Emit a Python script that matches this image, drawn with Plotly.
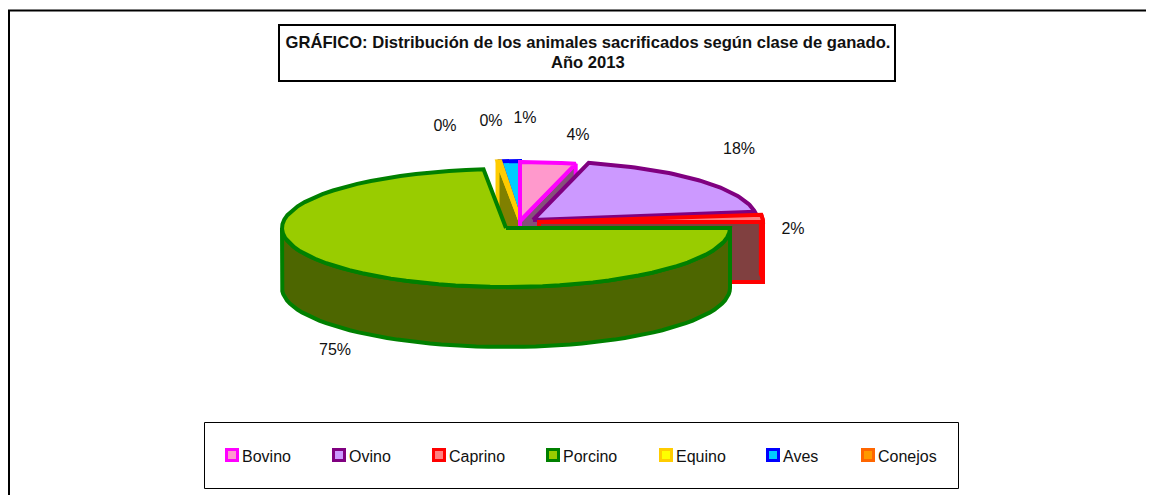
import numpy as np
import plotly.graph_objects as go

# shares, in drawing order clockwise from the top
categories = ['Bovino', 'Ovino', 'Caprino', 'Porcino', 'Equino', 'Aves', 'Conejos']
shares = [4.0, 18.8, 2.2, 73.4, 0.2, 1.4, 0.0]
pct_labels = ['4%', '18%', '2%', '75%', '0%', '1%', '0%']

line_colors = ['#FF00FF', '#800080', '#FF0000', '#008000', '#FFCC00', '#0000FF', '#FF6600']
top_colors = ['#FF99CC', '#CC99FF', '#FF8080', '#99CC00', '#FFFF00', '#00CCFF', '#FF9900']
side_colors = ['#85507A', '#664D80', '#804040', '#4D6600', '#808000', '#00667F', '#804D00']

# where each exploded slice has its tip, in page pixels
tip_x = [520, 533, 539, 506, 520, 520, 519]
tip_y = [221, 220, 222, 228, 220, 220, 220]
label_x = [578, 739, 793, 335, 445, 525, 491]
label_y = [136, 150, 230, 351, 127, 119, 122]
legend_x = [232, 339, 439, 553, 666, 773, 868]

RX, RY = 224, 59
DEPTH = 60
# the page body has an 8px margin, so the figure starts at 8,8
PAGE = 8

angles = np.cumsum([0] + shares) * 3.6


def rim(i, a0, a1, n=60):
    t = np.radians(np.linspace(a0, a1, n))
    return tip_x[i] + RX * np.sin(t), tip_y[i] - RY * np.cos(t)


def add_poly(fig, x, y, i, fill):
    fig.add_trace(go.Scatter(x=list(x) + [x[0]], y=list(y) + [y[0]], mode='lines', fill='toself',
                             fillcolor=fill, line=dict(color=line_colors[i], width=4),
                             showlegend=False, hoverinfo='skip'))


def add_top(fig, i):
    x, y = rim(i, angles[i], angles[i + 1])
    add_poly(fig, np.r_[tip_x[i], x], np.r_[tip_y[i], y], i, top_colors[i])


def add_radial_wall(fig, i, angle):
    # wall standing under the straight edge of a slice
    x, y = rim(i, angle, angle, 1)
    add_poly(fig, [x[0], tip_x[i], tip_x[i], x[0]],
             [y[0], tip_y[i], tip_y[i] + DEPTH, y[0] + DEPTH], i, side_colors[i])


def add_rim_wall(fig, i, a0, a1):
    x, y = rim(i, a0, a1)
    add_poly(fig, np.r_[x, x[::-1]], np.r_[y, y[::-1] + DEPTH], i, side_colors[i])


fig = go.Figure()

# back to front
add_top(fig, 5)
add_radial_wall(fig, 4, angles[4])
add_top(fig, 4)
add_radial_wall(fig, 0, angles[1])
add_top(fig, 0)
add_top(fig, 1)
add_radial_wall(fig, 2, angles[3])
add_rim_wall(fig, 2, angles[2], angles[3])
add_top(fig, 2)
add_rim_wall(fig, 3, angles[3], 270)
add_top(fig, 3)

fig.add_trace(go.Scatter(x=label_x, y=label_y, mode='text', text=pct_labels,
                         textfont=dict(size=16, color='#111111'),
                         showlegend=False, hoverinfo='skip'))

# legend row
fig.add_trace(go.Scatter(x=legend_x, y=[455] * len(legend_x), mode='markers',
                         marker=dict(symbol='square', size=11, color=top_colors,
                                     line=dict(color=line_colors, width=3)),
                         showlegend=False, hoverinfo='skip'))
for name, lx in zip(categories, legend_x):
    fig.add_annotation(x=lx + 10, y=456, text=name, showarrow=False, xanchor='left',
                       yanchor='middle', xshift=-2, font=dict(size=16, color='#111111'))

# second title line, the title's own line spacing is too wide
fig.add_annotation(x=588, y=62, text='<b>Año 2013</b>', showarrow=False,
                   font=dict(size=16.6, color='#111111'))

# page frame only shows on the left and top
frame = dict(color='black', width=2)
fig.add_shape(type='line', x0=9, x1=9, y0=10, y1=495, line=frame)
fig.add_shape(type='line', x0=8, x1=1154, y0=10.5, y1=10.5, line=frame)
fig.add_shape(type='rect', x0=279, x1=895, y0=25, y1=81, fillcolor='white', layer='below',
              line=dict(color='black', width=2))
fig.add_shape(type='rect', x0=204.5, x1=958.5, y0=422.5, y1=488.5,
              line=dict(color='black', width=1))

fig.update_layout(
    width=1154 - PAGE, height=495 - PAGE,
    margin=dict(l=0, r=0, t=0, b=0),
    plot_bgcolor='white', paper_bgcolor='white',
    font=dict(family='Liberation Sans'),
    title=dict(text='<b>GRÁFICO: Distribución de los animales sacrificados según clase de ganado.</b>',
               x=(588 - PAGE) / (1154 - PAGE), xanchor='center',
               y=1 - (42 - PAGE) / (495 - PAGE), yanchor='middle',
               font=dict(size=16.6, color='#111111')),
    showlegend=False)
fig.update_xaxes(range=[PAGE, 1154], visible=False)
fig.update_yaxes(range=[495, PAGE], visible=False)

fig.write_html("out.html")
